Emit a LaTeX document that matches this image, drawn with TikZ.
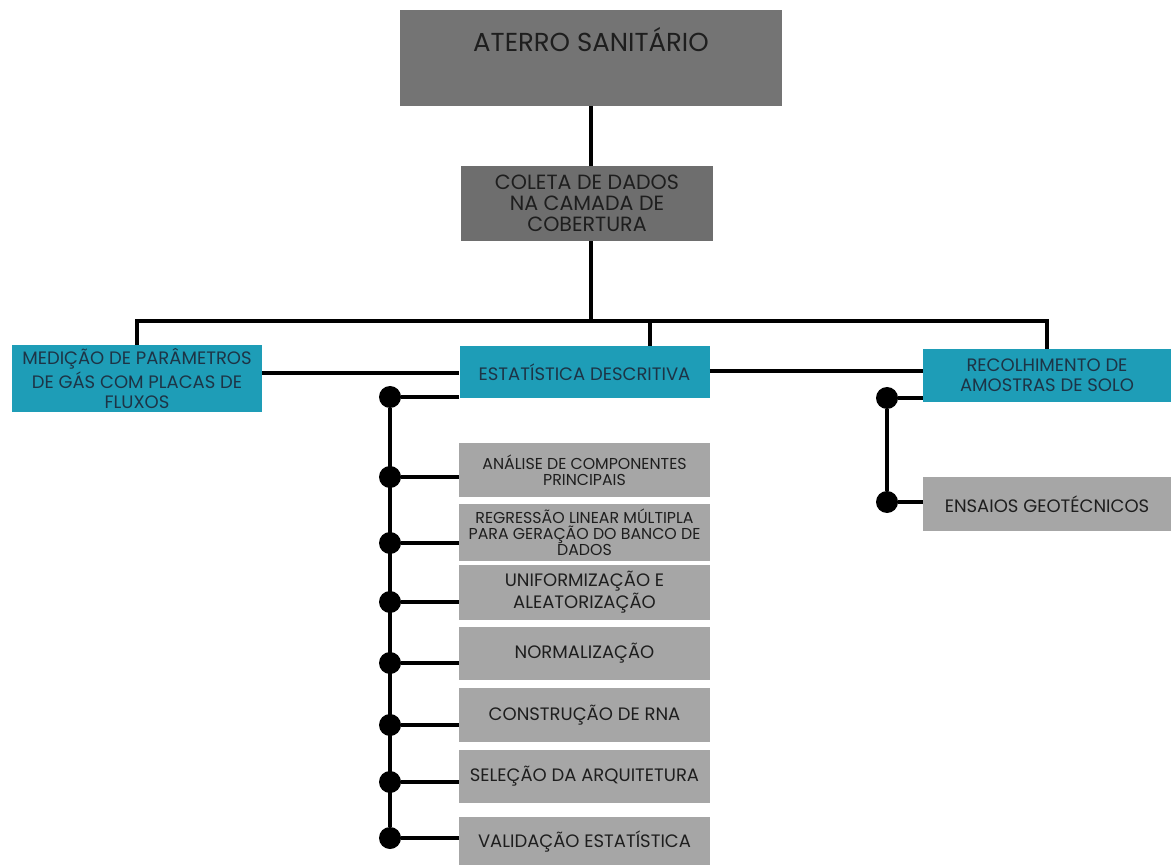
\documentclass[tikz,border=0pt]{standalone}
\usepackage{fontspec}
\setmainfont{Poppins}
\usetikzlibrary{positioning, calc}
\definecolor{mytop}{RGB}{116,116,116}
\definecolor{mydkgrey}{RGB}{110,110,110}
\definecolor{mygrey}{RGB}{166,166,166}
\definecolor{myteal}{RGB}{30,157,183}
\definecolor{mynavy}{RGB}{29,52,70}
\definecolor{myink}{RGB}{30,30,30}
\tikzset{
  topbox/.style={rectangle, fill=mytop, minimum width=191pt, minimum height=48pt, inner sep=0pt},
  darkbox/.style={rectangle, fill=mydkgrey, text=myink, minimum width=126pt, minimum height=37.5pt,
    align=center, font=\fontsize{10.3}{10.6}\selectfont, inner sep=0pt},
  tealbox/.style={rectangle, fill=myteal, text=mynavy, minimum width=125pt,
    align=center, font=\fontsize{9}{10}\selectfont, inner sep=0pt},
  greybox/.style={rectangle, fill=mygrey, text=myink, minimum width=125.5pt,
    align=center, font=\fontsize{9}{9.2}\selectfont, inner sep=0pt},
  smallgrey/.style={greybox, font=\fontsize{7.9}{8}\selectfont},
  dot/.style={circle, fill=black, minimum size=11pt, inner sep=0pt},
  link/.style={line width=1.75pt, color=black}
}
\begin{document}
\begin{tikzpicture}[x=0.5pt, y=-0.5pt]
  \useasboundingbox (0,0) rectangle (1171,865);

  % Top levels
  \node[topbox] (aterro) at (591,58) {};
  \node[anchor=base, text=myink, font=\fontsize{13}{15}\selectfont, inner sep=0pt]
    (aterrotxt) at ([yshift=-21pt]aterro.north) {ATERRO SANITÁRIO};
  \node[darkbox] (coleta) at (587,203.5) {COLETA DE DADOS\\NA CAMADA DE\\COBERTURA};

  % Second level
  \node[tealbox, minimum height=33.5pt] (medicao) at (137,378.5)
    {MEDIÇÃO DE PARÂMETROS\\DE GÁS COM PLACAS DE\\FLUXOS};
  \node[tealbox, minimum height=26pt] (estat) at (584.5,372) {ESTATÍSTICA DESCRITIVA};
  \node[tealbox, minimum width=124pt, minimum height=26.5pt] (recolh) at (1047,375.5)
    {RECOLHIMENTO DE\\AMOSTRAS DE SOLO};

  % Steps under the statistics box
  \node[smallgrey, minimum height=27pt] (analise) at (584.5,470) {ANÁLISE DE COMPONENTES\\PRINCIPAIS};
  \node[smallgrey, minimum height=28.5pt] (regressao) at (584.5,532.5)
    {REGRESSÃO LINEAR MÚLTIPLA\\PARA GERAÇÃO DO BANCO DE\\DADOS};
  \node[greybox, minimum height=27.5pt] (uniform) at (584.5,592.5) {UNIFORMIZAÇÃO E\\ALEATORIZAÇÃO};
  \node[greybox, minimum height=26.5pt] (normal) at (584.5,653.5) {NORMALIZAÇÃO};
  \node[greybox, minimum height=27pt] (construcao) at (584.5,715) {CONSTRUÇÃO DE RNA};
  \node[greybox, minimum height=26.5pt] (selecao) at (584.5,776.5) {SELEÇÃO DA ARQUITETURA};
  \node[greybox, minimum height=24pt] (validacao) at (584.5,841) {VALIDAÇÃO ESTATÍSTICA};

  % Step under the soil box
  \node[greybox, minimum width=124pt, minimum height=27pt] (ensaios) at (1047,504) {ENSAIOS GEOTÉCNICOS};

  % Trunk
  \coordinate (bus) at (591,321);
  \draw[link] (aterro.south -| bus) -- (coleta.north -| bus);
  \draw[link] (coleta.south -| bus) -- (bus);
  \draw[link] (medicao.north) |- (recolh.north |- bus) -- (recolh.north);
  \draw[link] (bus -| 650,0) -- (estat.north -| 650,0);
  \draw[link] (medicao.east |- 0,373) -- (estat.west |- 0,373);
  \draw[link] (estat.east |- 0,371) -- (recolh.west |- 0,371);

  % Statistics branch
  \foreach \y [count=\i] in {397,477,543,602,663,725,782,838}
    \node[dot] (sd\i) at (390,\y) {};
  \draw[link] (sd1) -- (sd8);
  \draw[link] (sd1) -- (sd1 -| estat.west);
  \foreach \i/\stp in {2/analise,3/regressao,4/uniform,5/normal,6/construcao,7/selecao,8/validacao}
    \draw[link] (sd\i) -- (sd\i -| \stp.west);

  % Soil branch
  \node[dot] (rd1) at (887,398) {};
  \node[dot] (rd2) at (887,502) {};
  \draw[link] (rd1) -- (rd2);
  \draw[link] (rd1) -- (rd1 -| recolh.west);
  \draw[link] (rd2) -- (rd2 -| ensaios.west);
\end{tikzpicture}
\end{document}
